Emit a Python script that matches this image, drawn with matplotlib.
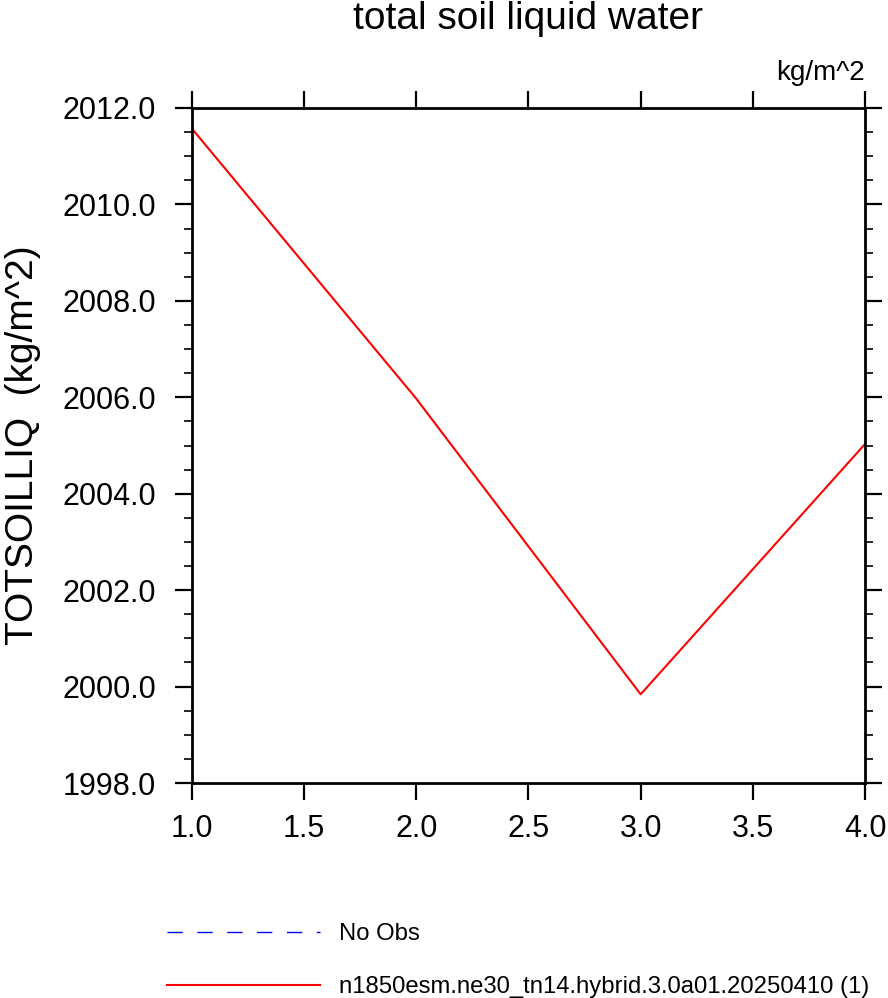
"""Line plot of total soil liquid water (TOTSOILLIQ) for one case."""
import matplotlib

matplotlib.use("Agg")
import matplotlib.pyplot as plt
from matplotlib.ticker import FormatStrFormatter, MultipleLocator

years = [1.0, 2.0, 3.0, 4.0]
totsoilliq = [2011.57, 2005.97, 1999.84, 2005.03]
case_name = "n1850esm.ne30_tn14.hybrid.3.0a01.20250410 (1)"
obs_name = "No Obs"

plt.rcParams["font.family"] = ["Liberation Sans", "DejaVu Sans"]

fig = plt.figure(figsize=(8.88, 9.98), dpi=100)
ax = fig.add_axes([0.2162, 0.2154, 0.7579, 0.6764])

obs_line, = ax.plot([], [], color="blue", linestyle=(0, (11, 10.5)), linewidth=1.0, label=obs_name)
case_line, = ax.plot(years, totsoilliq, color="red", linewidth=1.5, label=case_name)

ax.set_xlim(1.0, 4.0)
ax.set_ylim(1998.0, 2012.0)
ax.xaxis.set_major_locator(MultipleLocator(0.5))
ax.yaxis.set_major_locator(MultipleLocator(2.0))
ax.yaxis.set_minor_locator(MultipleLocator(0.5))
ax.xaxis.set_major_formatter(FormatStrFormatter("%.1f"))
ax.yaxis.set_major_formatter(FormatStrFormatter("%.1f"))

ax.tick_params(axis="both", which="major", direction="out", length=12, width=1.6,
               labelsize=22, top=True, right=True)
ax.tick_params(axis="y", which="minor", direction="out", length=6, width=1.2,
               left=True, right=True)
ax.tick_params(axis="x", pad=10)
ax.tick_params(axis="y", pad=14)
for spine in ax.spines.values():
    spine.set_linewidth(2.0)

ax.set_ylabel("TOTSOILLIQ  (kg/m^2)", fontsize=28, labelpad=15)
fig.text(0.5946, 0.981, "total soil liquid water", ha="center", va="center", fontsize=28)
ax.text(1.0, 1.052, "kg/m^2", transform=ax.transAxes, ha="right", va="center", fontsize=20)

fig.legend(handles=[obs_line, case_line], loc="lower left", bbox_to_anchor=(0.188, 0.0),
           frameon=False, fontsize=17.2, handlelength=6.4, handletextpad=0.8,
           labelspacing=1.3, borderpad=0.0, borderaxespad=0.0)

fig.savefig("out.png", dpi=100)
plt.close(fig)
